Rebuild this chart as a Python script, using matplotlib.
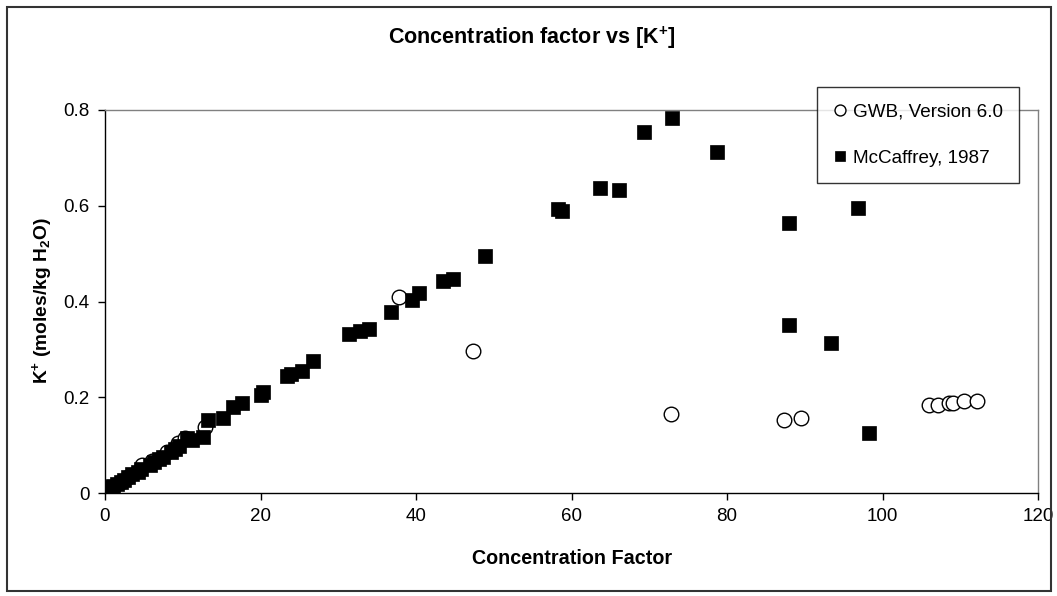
import matplotlib
matplotlib.use('Agg')
import matplotlib.pyplot as plt
from matplotlib.patches import Rectangle

plt.rcParams['font.family'] = ['Liberation Sans', 'DejaVu Sans']
plt.rcParams['mathtext.fontset'] = 'custom'
plt.rcParams['mathtext.rm'] = 'Liberation Sans'
plt.rcParams['mathtext.bf'] = 'Liberation Sans:bold'
plt.rcParams['mathtext.it'] = 'Liberation Sans:italic'

# GWB, Version 6.0 (modelled)
gwb_cf = [0.5, 1.0, 2.0, 3.0, 4.8, 6.0, 8.0, 9.4, 10.3, 12.9, 37.8, 47.3,
          72.8, 87.3, 89.5, 106.0, 107.1, 108.6, 109.1, 110.5, 112.1]
gwb_k = [0.010, 0.013, 0.022, 0.033, 0.058, 0.066, 0.086, 0.104, 0.115, 0.138, 0.409, 0.296,
         0.166, 0.152, 0.156, 0.184, 0.184, 0.188, 0.188, 0.192, 0.192]

# McCaffrey, 1987 (measured)
mcc_cf = [0.5, 1.0, 1.5, 2.0, 2.5, 3.0, 3.5, 4.2, 4.6, 5.8, 6.3, 7.0, 7.4, 8.5, 9.0, 9.5,
          10.5, 11.2, 12.6, 13.2, 15.2, 16.5, 17.6, 20.0, 20.3, 23.4, 23.9, 25.4, 26.8,
          31.4, 32.8, 34.0, 36.8, 39.5, 40.4, 43.5, 44.8, 48.9, 58.3, 58.8, 63.7, 66.1,
          69.3, 72.9, 78.7, 88.0, 96.8, 88.0, 93.4, 98.2]
mcc_k = [0.012, 0.015, 0.018, 0.022, 0.028, 0.033, 0.040, 0.044, 0.050, 0.058, 0.065, 0.070,
         0.076, 0.086, 0.092, 0.098, 0.115, 0.111, 0.117, 0.152, 0.157, 0.180, 0.188, 0.205,
         0.210, 0.245, 0.249, 0.254, 0.276, 0.332, 0.338, 0.342, 0.378, 0.403, 0.418, 0.443,
         0.447, 0.495, 0.593, 0.589, 0.637, 0.633, 0.754, 0.783, 0.712, 0.564, 0.595, 0.350,
         0.313, 0.125]

fig = plt.figure(figsize=(10.57, 5.96), dpi=100)
ax = fig.add_axes([105/1057, 103/596, 933/1057, 383/596])

ax.plot(gwb_cf, gwb_k, linestyle='none', marker='o', markersize=10.5,
        markerfacecolor='white', markeredgecolor='black', markeredgewidth=1.0,
        label='GWB, Version 6.0')
ax.plot(mcc_cf, mcc_k, linestyle='none', marker='s', markersize=10.5,
        markerfacecolor='black', markeredgecolor='black', markeredgewidth=0.5,
        label='McCaffrey, 1987')

ax.set_xlim(0, 120)
ax.set_ylim(0, 0.8)
ax.set_xticks([0, 20, 40, 60, 80, 100, 120])
ax.set_yticks([0, 0.2, 0.4, 0.6, 0.8])
ax.set_yticklabels(['0', '0.2', '0.4', '0.6', '0.8'])
ax.tick_params(direction='out', length=5, width=1, labelsize=13.5, pad=6)

for s in ['left', 'bottom']:
    ax.spines[s].set_color('black')
    ax.spines[s].set_linewidth(1)
for s in ['top', 'right']:
    ax.spines[s].set_color('#808080')
    ax.spines[s].set_linewidth(1)

fig.text(0.503, 0.936, r'Concentration factor vs [K$^{\mathbf{+}}$]',
         ha='center', va='center', fontsize=15.5, fontweight='bold')
fig.text(572/1057, 1 - 558/596, 'Concentration Factor',
         ha='center', va='center', fontsize=14.2, fontweight='bold')
fig.text(42/1057, 1 - 301/596, r'K$^{\mathbf{+}}$ (moles/kg H$_{\mathbf{2}}$O)',
         ha='center', va='center', rotation=90, fontsize=13.8, fontweight='bold')

leg = ax.legend(loc='upper right', bbox_to_anchor=(1019/1057, 1 - 87/596),
                bbox_transform=fig.transFigure, borderaxespad=0, fontsize=13.6,
                frameon=True, fancybox=False, handlelength=0.7, handletextpad=0.35,
                labelspacing=1.55, borderpad=0.85, markerscale=0.75)
leg.get_frame().set_edgecolor('black')
leg.get_frame().set_linewidth(1)

fig.patches.append(Rectangle((7/1057, 5/596), 1044/1057, 584/596, transform=fig.transFigure,
                             fill=False, edgecolor='#333333', linewidth=1.5))

fig.savefig('out.png', dpi=100)
